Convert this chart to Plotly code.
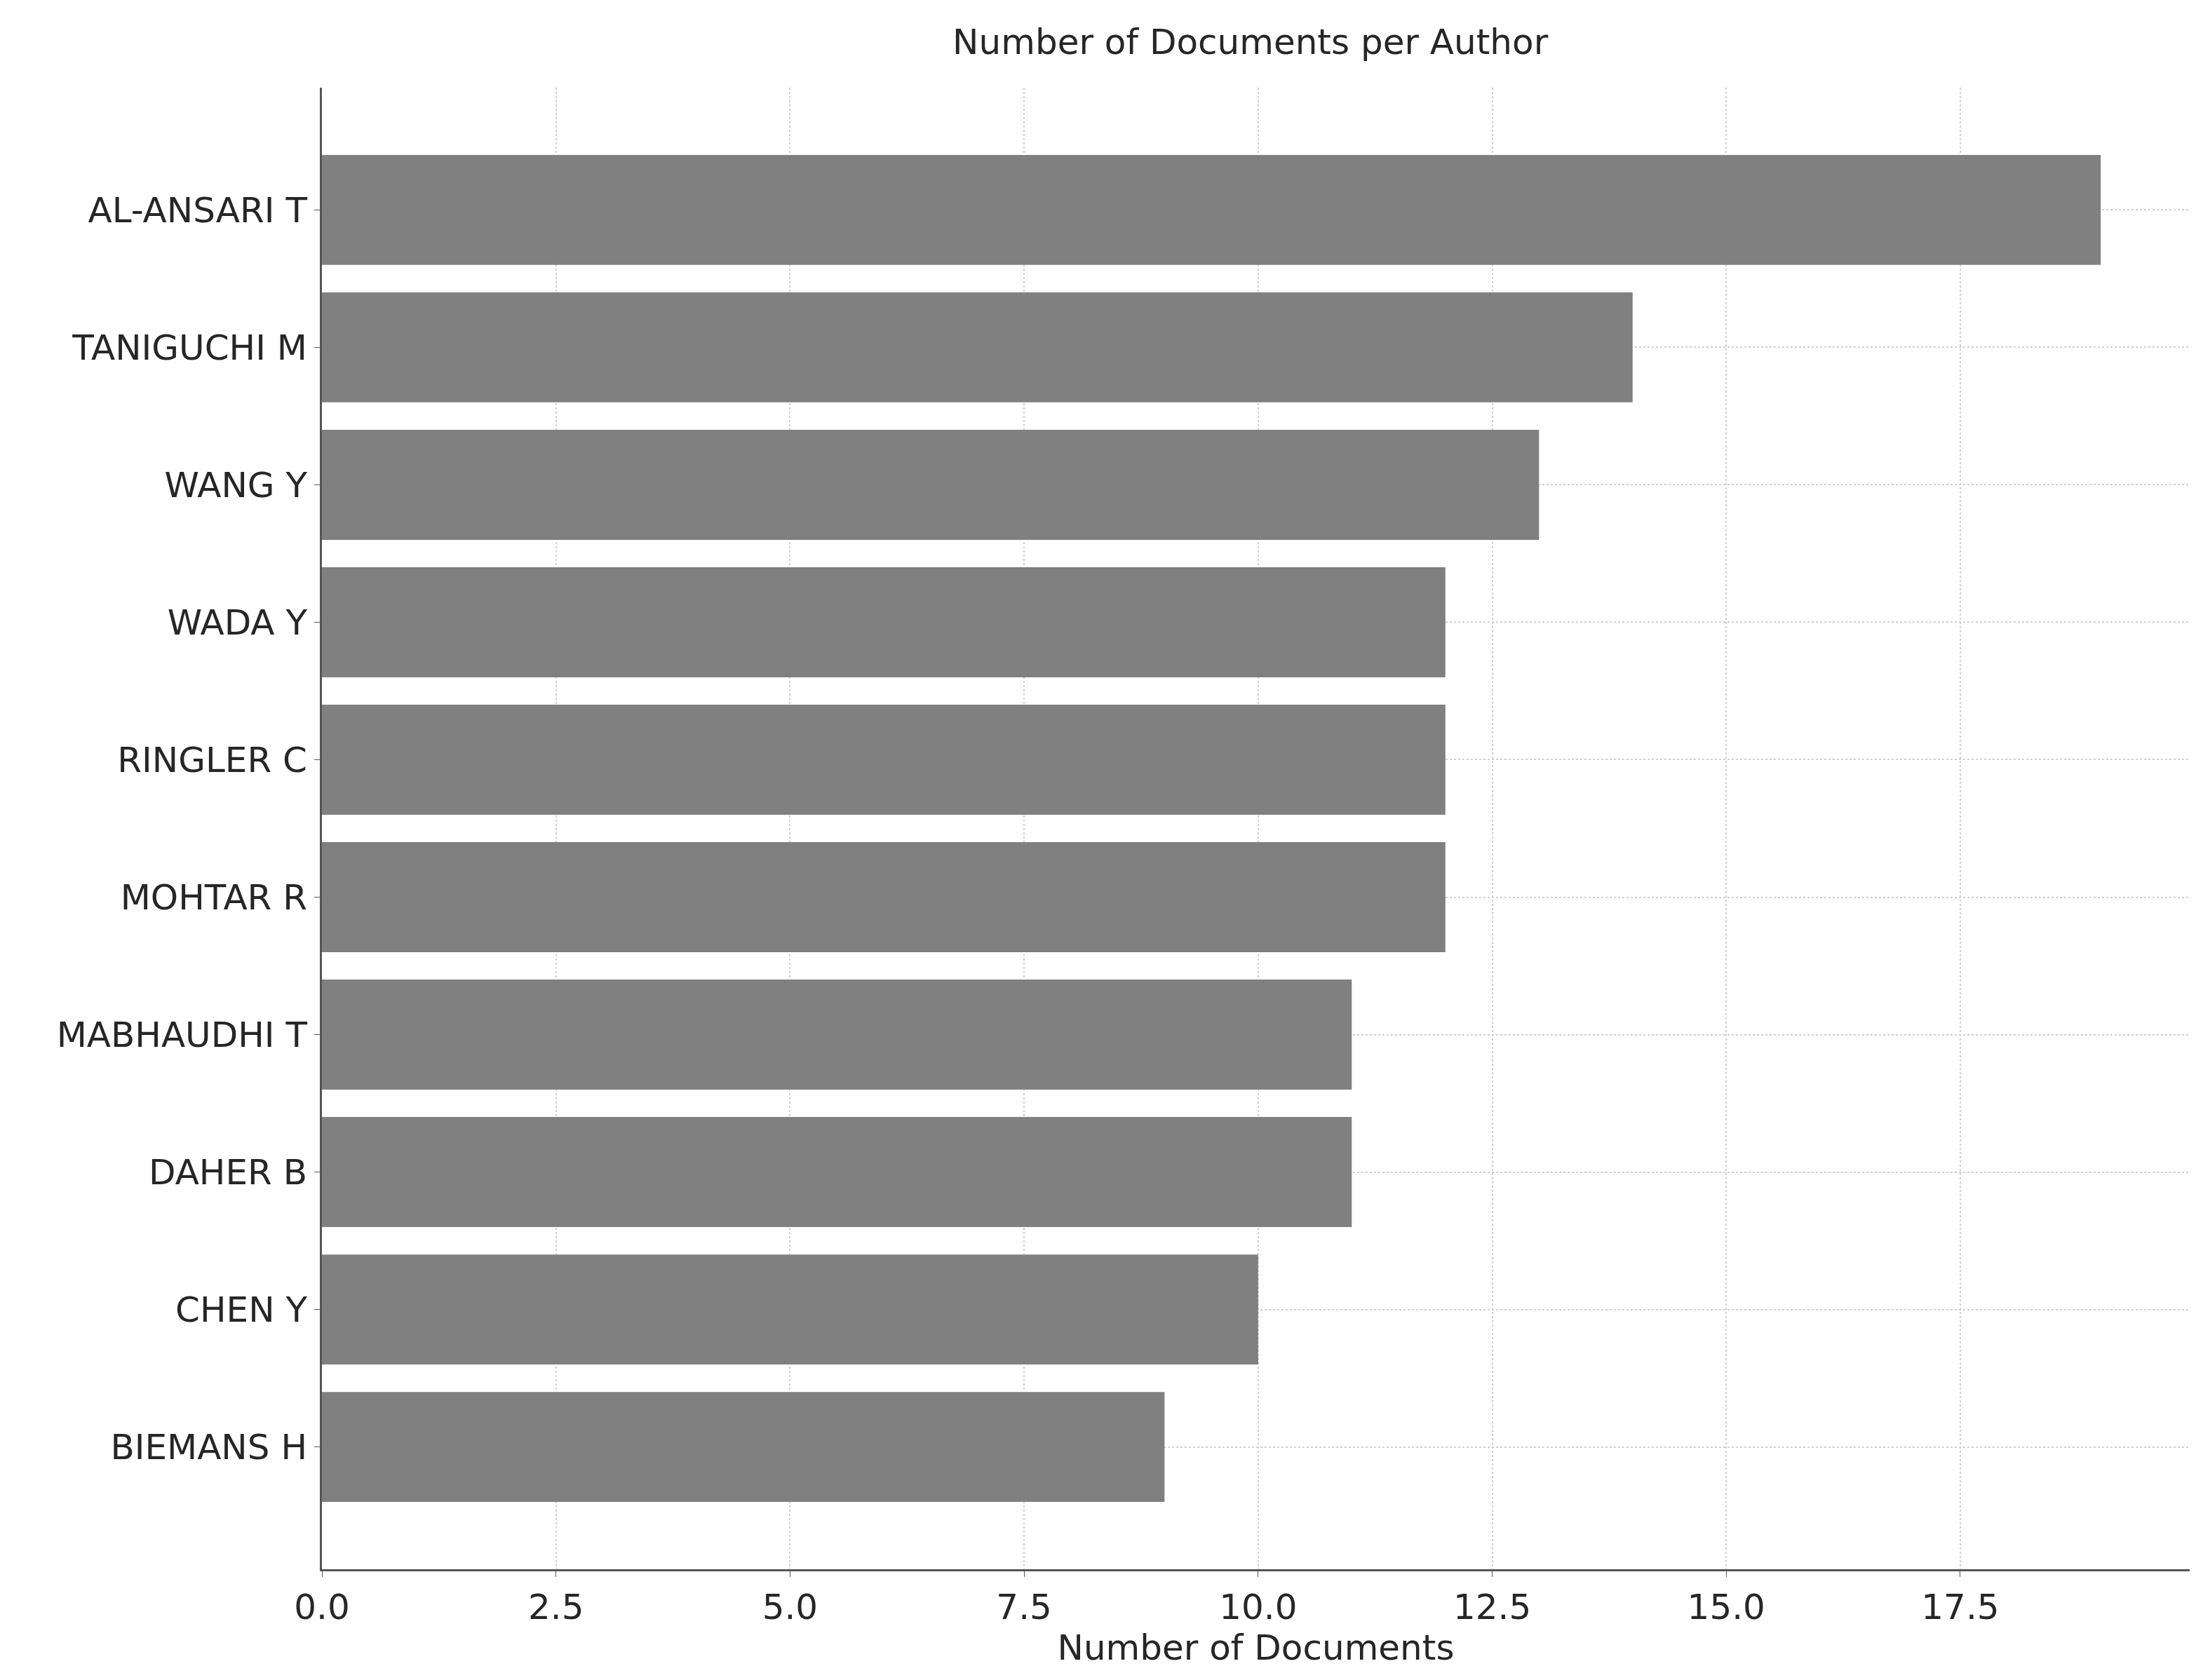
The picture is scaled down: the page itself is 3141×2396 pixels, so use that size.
import plotly.graph_objects as go

authors = ["AL-ANSARI T", "TANIGUCHI M", "WANG Y", "WADA Y", "RINGLER C",
           "MOHTAR R", "MABHAUDHI T", "DAHER B", "CHEN Y", "BIEMANS H"]
documents = [19, 14, 13, 12, 12, 12, 11, 11, 10, 9]
xticks = [0, 2.5, 5, 7.5, 10, 12.5, 15, 17.5]

fig = go.Figure(go.Bar(
    x=documents, y=list(range(len(authors))), orientation="h",
    marker=dict(color="#808080", line=dict(width=0)), width=0.8,
))
font = dict(family="DejaVu Sans", size=50, color="#262626")
fig.update_layout(
    width=3141, height=2396,
    paper_bgcolor="white", plot_bgcolor="white",
    margin=dict(l=451, r=27, t=117, b=166),
    title=dict(text="Number of Documents per Author", x=0.565, xanchor="center",
               y=0.986, yanchor="top", font=font),
    font=font, showlegend=False,
)
fig.update_xaxes(range=[0, 19.95], tickvals=xticks, ticktext=[f"{t:.1f}" for t in xticks],
                 showgrid=True, gridcolor="#d0d0d0", griddash="dot", gridwidth=2,
                 showline=True, linecolor="#555555", linewidth=3,
                 ticks="outside", ticklen=8, tickcolor="#555555", zeroline=False,
                 title=dict(text="Number of Documents", font=font, standoff=10))
fig.update_yaxes(range=[9.89, -0.89], tickvals=list(range(len(authors))), ticktext=authors,
                 showgrid=True, gridcolor="#d0d0d0", griddash="dot", gridwidth=2,
                 showline=True, linecolor="#555555", linewidth=3,
                 ticks="outside", ticklen=8, tickcolor="#555555", zeroline=False)
fig.write_html("out.html")
